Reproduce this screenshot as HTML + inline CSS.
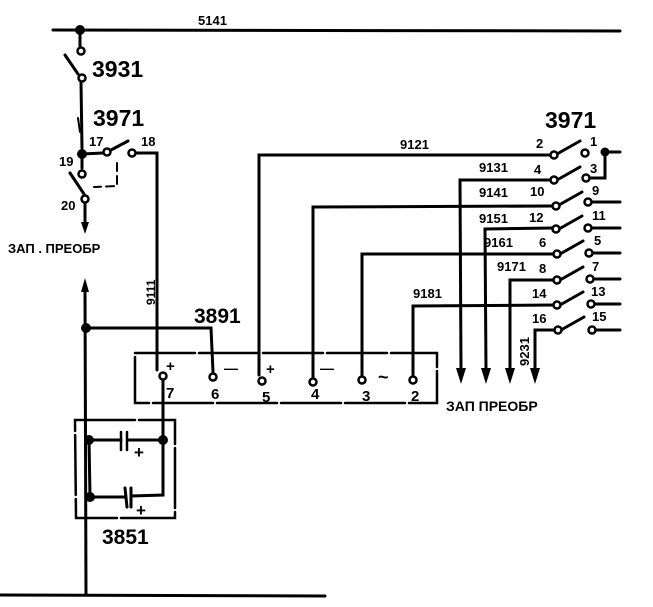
<!DOCTYPE html>
<html><head><meta charset="utf-8"><style>
html,body{margin:0;padding:0;background:#fff;}
svg{display:block;}
text{font-family:"Liberation Sans","DejaVu Sans",sans-serif;fill:#000;font-weight:bold;}
</style></head><body>
<svg width="653" height="607" viewBox="0 0 653 607" xmlns="http://www.w3.org/2000/svg">
<g stroke="#000" stroke-width="3" fill="none" stroke-linecap="round">
<path d="M53 30 L620 31"/>
<path d="M80 30 L80 46"/>
<path d="M65 55 L78 74"/>
<path d="M81 82 L82 148"/>
<path d="M78 118 L80 132" stroke-width="2"/>
<path d="M82 154 L103 153"/>
<path d="M111 150 L128 141"/>
<path d="M136 153 L157 153 L157 370"/>
<path d="M117 163 L117 186 L94 187" stroke-dasharray="8,5" stroke-width="2"/>
<path d="M82 154 L82 168"/>
<path d="M70 173 L84 194"/>
<path d="M85 203 L85 225"/>
<path d="M85 290 L86 595"/>
<path d="M0 595 L325 596"/>
<path d="M86 328 L211 328 L213 372"/>
<path d="M135 353 L437 353 L437 403 L135 403 Z" stroke-dasharray="60,4" stroke-width="2.5"/>
<path d="M163 380 L163 440"/>
<path d="M259 375 L259 155 L551 155"/>
<path d="M313 377 L313 207 L553 206"/>
<path d="M362 375 L362 254 L554 254"/>
<path d="M413 375 L413 306 L554 305"/>
<path d="M551 180 L460 180 L461 370"/>
<path d="M553 228 L485 229 L486 370"/>
<path d="M554 280 L510 280 L510 370"/>
<path d="M555 330 L535 330 L535 370"/>
<path d="M605 152 L620 152"/>
<path d="M590 178 L605 178 L605 152"/>
<path d="M592 202 L620 202"/>
<path d="M592 228 L620 228"/>
<path d="M593 253 L620 253"/>
<path d="M593 279 L620 279"/>
<path d="M594 304 L620 304"/>
<path d="M595 330 L620 330"/>
<path d="M557 154 L580 141"/><path d="M557 180 L580 167"/><path d="M559 205 L582 192"/><path d="M559 229 L582 216"/>
<path d="M560 254 L583 241"/><path d="M560 280 L583 267"/><path d="M560 305 L583 292"/><path d="M561 330 L584 317"/>
<path d="M75 420 L175 420 L175 518 L76 518 Z" stroke-dasharray="60,4" stroke-width="2.5"/>
<path d="M89 440 L121 440 M128 440 L163 440 L163 495 L131 496 M124 497 L90 497 L89 440"/>
<path d="M121 432 L121 450 M127 432 L127 450" stroke-width="2.5"/>
<path d="M125 488 L127 507 M131 488 L131 507" stroke-width="3"/>
</g>
<g stroke="#000" stroke-width="2.5" fill="#fff">
<circle cx="81" cy="51" r="3.5"/><circle cx="82" cy="78" r="3.5"/>
<circle cx="107" cy="152" r="3.5"/><circle cx="132" cy="153" r="3.5"/>
<circle cx="82" cy="174" r="3.5"/><circle cx="85" cy="199" r="3.5"/>
<circle cx="163" cy="376" r="3.5"/><circle cx="213" cy="377" r="3.5"/><circle cx="262" cy="381" r="3.5"/>
<circle cx="313" cy="382" r="3.5"/><circle cx="362" cy="380" r="3.5"/><circle cx="413" cy="380" r="3.5"/>
<circle cx="554" cy="155" r="3.5"/><circle cx="554" cy="180" r="3.5"/><circle cx="556" cy="206" r="3.5"/><circle cx="556" cy="229" r="3.5"/>
<circle cx="557" cy="254" r="3.5"/><circle cx="557" cy="280" r="3.5"/><circle cx="557" cy="305" r="3.5"/><circle cx="558" cy="330" r="3.5"/>
<circle cx="585" cy="153" r="3.5"/><circle cx="586" cy="178" r="3.5"/><circle cx="588" cy="202" r="3.5"/><circle cx="588" cy="228" r="3.5"/>
<circle cx="589" cy="253" r="3.5"/><circle cx="590" cy="279" r="3.5"/><circle cx="591" cy="304" r="3.5"/><circle cx="592" cy="330" r="3.5"/>
</g>
<g fill="#000">
<circle cx="80" cy="30" r="5"/><circle cx="82" cy="154" r="5"/><circle cx="86" cy="328" r="5"/>
<circle cx="605" cy="152" r="4.5"/>
<circle cx="89" cy="440" r="5"/><circle cx="163" cy="440" r="5"/><circle cx="90" cy="497" r="5"/>
<path d="M81 222 L89 222 L85 234 Z"/>
<path d="M81 292 L89 292 L85 278 Z"/>
<path d="M456 368 L466 368 L461 384 Z"/><path d="M481 368 L491 368 L486 384 Z"/>
<path d="M505 368 L515 368 L510 384 Z"/><path d="M530 368 L540 368 L535 384 Z"/>
</g>
<g font-size="14">
<text x="198" y="25" font-size="13">5141</text>
<text x="92" y="77" font-size="23" font-weight="normal">3931</text>
<text x="93" y="126" font-size="23" font-weight="normal">3971</text>
<text x="89" y="146" font-size="13">17</text>
<text x="141" y="146" font-size="13">18</text>
<text x="59" y="166" font-size="13">19</text>
<text x="61" y="210" font-size="13">20</text>
<text x="8" y="253" font-size="13">ЗАП . ПРЕОБР</text>
<text x="155" y="305" font-size="12" transform="rotate(-90 155 305)">9111</text>
<text x="194" y="323" font-size="21" font-weight="normal">3891</text>
<text x="166" y="371" font-size="15">+</text>
<text x="224" y="373" font-size="14">—</text>
<text x="266" y="374" font-size="15">+</text>
<text x="320" y="373" font-size="14">—</text>
<text x="378" y="383" font-size="18">~</text>
<text x="166" y="398" font-size="15" font-weight="normal">7</text>
<text x="211" y="399" font-size="15" font-weight="normal">6</text>
<text x="262" y="402" font-size="15" font-weight="normal">5</text>
<text x="311" y="399" font-size="15" font-weight="normal">4</text>
<text x="362" y="401" font-size="15" font-weight="normal">3</text>
<text x="411" y="401" font-size="15" font-weight="normal">2</text>
<text x="400" y="149" font-size="13">9121</text>
<text x="479" y="172" font-size="13">9131</text>
<text x="479" y="197" font-size="13">9141</text>
<text x="479" y="223" font-size="13">9151</text>
<text x="484" y="247" font-size="13">9161</text>
<text x="497" y="271" font-size="13">9171</text>
<text x="413" y="298" font-size="13">9181</text>
<text x="529" y="366" font-size="13" transform="rotate(-90 529 366)">9231</text>
<text x="545" y="128" font-size="23" font-weight="normal">3971</text>
<text x="536" y="148" font-size="13">2</text><text x="590" y="146" font-size="13">1</text>
<text x="534" y="174" font-size="13">4</text><text x="590" y="173" font-size="13">3</text>
<text x="530" y="196" font-size="13">10</text><text x="592" y="195" font-size="13">9</text>
<text x="529" y="222" font-size="13">12</text><text x="592" y="220" font-size="13">11</text>
<text x="539" y="247" font-size="13">6</text><text x="594" y="245" font-size="13">5</text>
<text x="539" y="273" font-size="13">8</text><text x="592" y="271" font-size="13">7</text>
<text x="532" y="298" font-size="13">14</text><text x="591" y="296" font-size="13">13</text>
<text x="532" y="323" font-size="13">16</text><text x="592" y="321" font-size="13">15</text>
<text x="446" y="411" font-size="14">ЗАП ПРЕОБР</text>
<text x="134" y="458" font-size="17">+</text>
<text x="136" y="516" font-size="17">+</text>
<text x="102" y="544" font-size="21" font-weight="normal">3851</text>
</g>
</svg>
</body></html>
